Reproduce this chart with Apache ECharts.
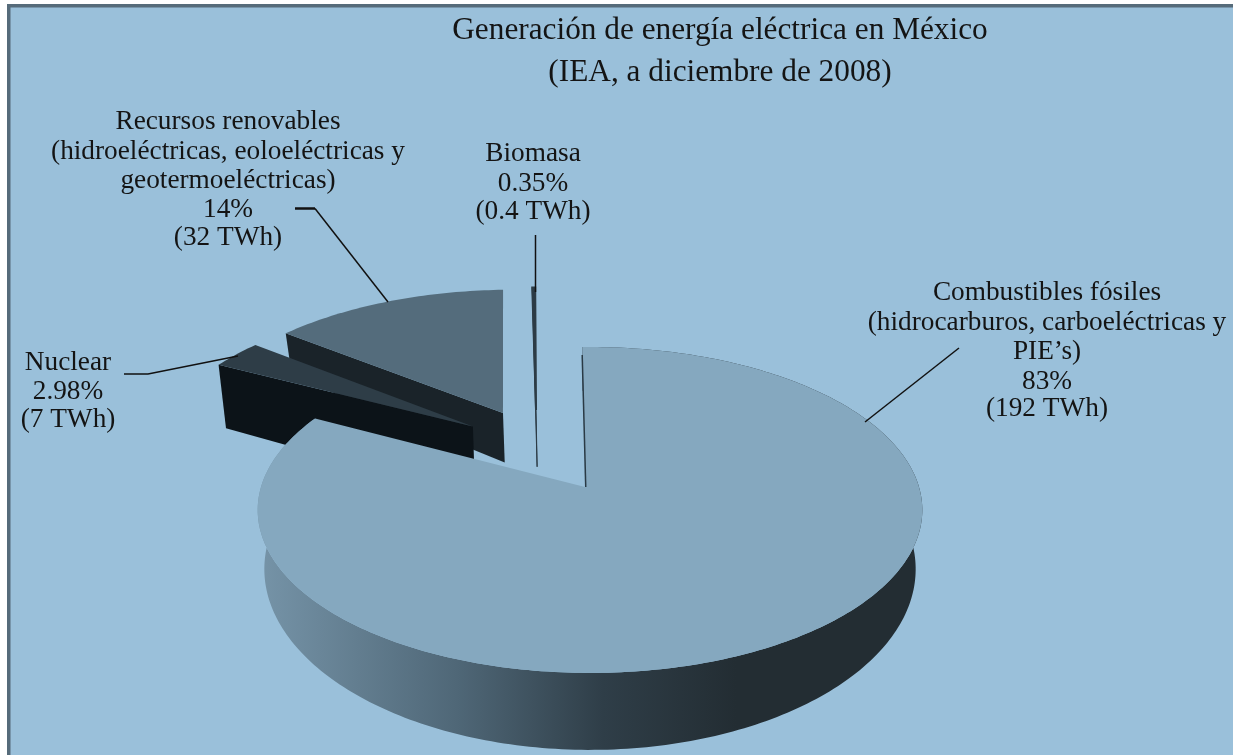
<!DOCTYPE html>
<html>
<head>
<meta charset="utf-8">
<style>html,body{margin:0;padding:0;background:#fff}#main{width:1233px;height:755px}</style>
<script src="https://cdn.jsdelivr.net/npm/echarts@6/dist/echarts.min.js"></script>
</head>
<body>
<div id="main"></div>
<script>
// clockwise from the top of the pie
const categories = ['Combustibles fósiles', 'Nuclear', 'Recursos renovables', 'Biomasa'];
const twh = [192, 7, 32, 0.4];
const percentLabels = ['83%', '2.98%', '14%', '0.35%'];
const twhLabels = ['(192 TWh)', '(7 TWh)', '(32 TWh)', '(0.4 TWh)'];
const titleLines = ['Generación de energía eléctrica en México', '(IEA, a diciembre de 2008)'];
const descLines = [
    ['Combustibles fósiles', '(hidrocarburos, carboeléctricas y', 'PIE\u2019s)'],
    ['Nuclear'],
    ['Recursos renovables', '(hidroeléctricas, eoloeléctricas y', 'geotermoeléctricas)'],
    ['Biomasa']
];

// pie plane projection
const VIEW = { x: 590, y: 487, r: 329, q: 159.7, k: 0.141, depth: 56.8, shrink: 0.98, start: -1.5 };
const SLICE = [
    { u: 0, v: 0, depth: 1, apexDx: -5, top: '#85a8bf', wall: { type: 'linear', x: 0, y: 0, x2: 1, y2: 0, colorStops: [
        { offset: 0, color: '#7694a8' }, { offset: 0.3, color: '#4f6777' }, { offset: 0.52, color: '#2f3e48' },
        { offset: 0.72, color: '#232d33' }, { offset: 1, color: '#232d33' }] } },
    { u: -0.376, v: 0.4, depth: 1.4, apexDx: 0, top: '#2e3d47', wall: '#0c1318' },
    { u: -0.283, v: 0.496, depth: 1, apexDx: 0, top: '#546c7c', wall: '#1a2329' },
    { u: -0.176, v: 0.517, depth: 1.15, apexDx: 0, top: '#2c3b45', wall: '#2c3b45' }
];
const LABEL = [
    { x: 1047, y: [293, 323, 352, 382, 409] },
    { x: 68, y: [363, 392, 420] },
    { x: 228, y: [122, 152, 181, 210, 238] },
    { x: 533, y: [154, 184, 212] }
];
const LEADERS = [
    { width: 1.5, pts: [[959, 348], [865, 422]] },
    { width: 1.5, pts: [[124, 374], [148, 374], [238, 356]] },
    { width: 2.5, pts: [[295, 208.5], [315, 208.5]] },
    { width: 1.5, pts: [[315, 208.5], [388, 302]] },
    { width: 1.5, pts: [[535.5, 235], [535.5, 292]] }
];

const total = twh.reduce((a, b) => a + b, 0);
const angles = [];
twh.reduce((acc, v) => {
    angles.push([acc, acc + v / total * 360]);
    return acc + v / total * 360;
}, VIEW.start);

function project(s, u, v, low) {
    const pu = s.u + u, pv = s.v + v;
    const w = 1 / (1 + VIEW.k * pv);
    const x = VIEW.x + VIEW.r * pu * w;
    const y = VIEW.y - VIEW.q * pv * w;
    if (!low) return [x, y];
    return [VIEW.x + (x - VIEW.x) * VIEW.shrink, y + VIEW.depth * s.depth * w * w];
}

function rim(s, a0, a1, low) {
    const pts = [];
    const n = Math.max(2, Math.ceil(Math.abs(a1 - a0)));
    for (let i = 0; i <= n; i++) {
        const a = (a0 + (a1 - a0) * i / n) * Math.PI / 180;
        pts.push(project(s, Math.sin(a), Math.cos(a), low));
    }
    return pts;
}

function renderSlice(params, api) {
    const idx = api.value(0);
    const s = SLICE[idx];
    const [a0, a1] = angles[idx];
    const top = rim(s, a0, a1, false);
    const low = rim(s, a0, a1, true);
    const apexTop = project(s, 0, 0, false);
    apexTop[0] += s.apexDx;
    const apexLow = project(s, 0, 0, true);
    const children = [];
    if (idx === 0) {
        // outer wall of the big slice, the top face hides the back part
        children.push({ type: 'polygon', shape: { points: top.concat(low.slice().reverse()) }, style: { fill: s.wall } });
    } else {
        // cut face at the start of the slice
        children.push({ type: 'polygon', shape: { points: [top[0], apexTop, apexLow, low[0]] },
            style: { fill: s.wall, stroke: idx === 3 ? s.wall : null, lineWidth: 1 } });
    }
    children.push({ type: 'polygon', shape: { points: [apexTop].concat(top) },
        style: { fill: s.top, stroke: idx === 3 ? s.top : null, lineWidth: 2 } });
    if (idx === 0) {
        children.push({ type: 'polygon',
            shape: { points: [apexTop, [top[0][0] - 1, top[0][1] + 8], [top[0][0] + 0.5, top[0][1] + 8], [apexTop[0] + 1.5, apexTop[1]]] },
            style: { fill: '#2a3a45' } });
    }
    return { type: 'group', children };
}

function textEl(str, x, y, size) {
    return { type: 'text', style: { text: str, x, y, align: 'center', verticalAlign: 'middle',
        font: size + 'px "Liberation Serif"', fill: '#141414' } };
}

function renderAnnotations() {
    const children = [];
    titleLines.forEach((t, i) => children.push(textEl(t, 720, i === 0 ? 31 : 73, 31.3)));
    categories.forEach((c, i) => {
        const lines = descLines[i].concat(percentLabels[i], twhLabels[i]);
        lines.forEach((t, j) => children.push(textEl(t, LABEL[i].x, LABEL[i].y[j], 27.3)));
    });
    LEADERS.forEach((l) => children.push({ type: 'polyline', shape: { points: l.pts },
        style: { fill: null, stroke: '#111', lineWidth: l.width } }));
    return { type: 'group', children };
}

const chart = echarts.init(document.getElementById('main'), null, { renderer: 'canvas' });
chart.setOption({
    animation: false,
    backgroundColor: '#fff',
    graphic: [
        { type: 'rect', z: -2, shape: { x: 7, y: 4, width: 1226, height: 751 }, style: { fill: '#566b7a' } },
        { type: 'rect', z: -1, shape: { x: 10.5, y: 7.5, width: 1223, height: 748 }, style: { fill: '#9ac0da' } }
    ],
    series: [{
        type: 'custom',
        coordinateSystem: 'none',
        renderItem: renderSlice,
        z: 3,
        // back slices first so the big one lies on top
        data: categories.map((c, i) => ({ name: c, value: [i, twh[i]] })).reverse()
    }, {
        type: 'custom',
        coordinateSystem: 'none',
        renderItem: renderAnnotations,
        z: 4,
        data: [[0]]
    }]
});
</script>
</body>
</html>
